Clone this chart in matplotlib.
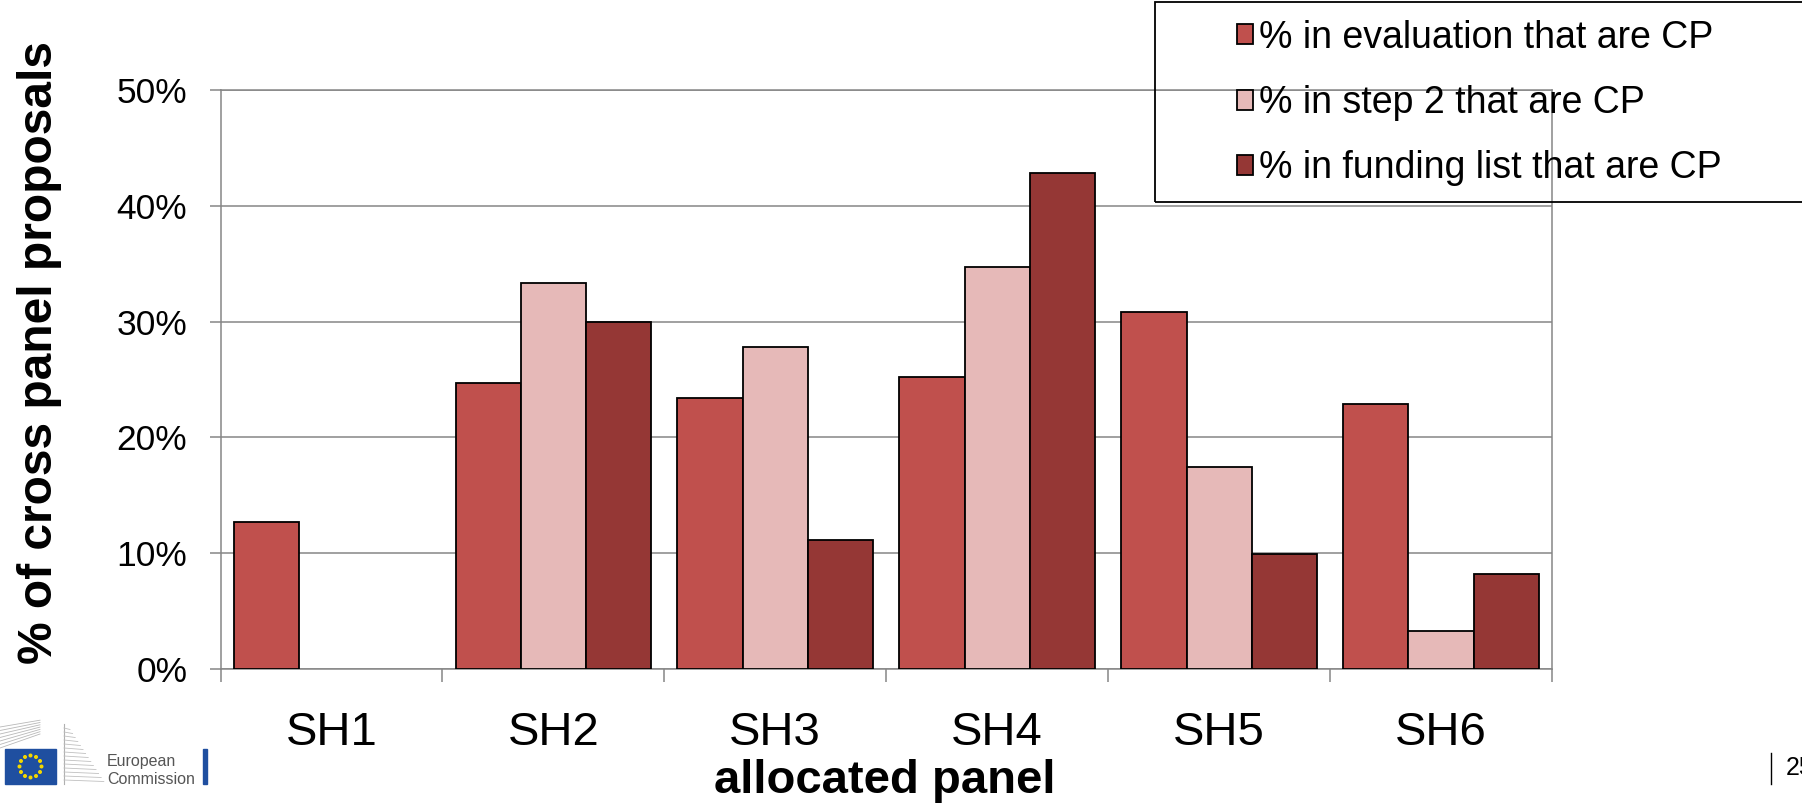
import matplotlib
matplotlib.use("Agg")
import matplotlib.pyplot  as plt
import matplotlib.ticker  as mtick
import numpy as np
from matplotlib.patches import Rectangle, Circle
from matplotlib.lines   import Line2D


PNG_PATH = "out.png"

panels          = ["SH1", "SH2", "SH3", "SH4", "SH5", "SH6"]
evaluation_cp   = [0.127, 0.247, 0.234, 0.252, 0.308, 0.229]
step2_cp        = [0.0,   0.333, 0.278, 0.347, 0.174, 0.033]
funding_cp      = [0.0,   0.300, 0.111, 0.428, 0.099, 0.082]

series_labels   = ["% in evaluation that are CP",
                   "% in step 2 that are CP",
                   "% in funding list that are CP"]
series_colors   = ["#C0504D", "#E6B9B8", "#953735"]
y_ticks         = [0.0, 0.1, 0.2, 0.3, 0.4, 0.5]

GRID_GRAY = "#868686"

W, H = 1802, 805


def draw_logo(fig):
  # Logo simplifie de la Commission europeenne, en coordonnees pixels
  lax = fig.add_axes([0, 0, 215 / W, 95 / H])
  lax.set_xlim(0, 215)
  lax.set_ylim(805, 710)
  lax.axis("off")

  # batiment a gauche (lignes en perspective)
  for k in range(7):
    y = 748 - k * 3.5
    lax.plot([0, 40], [y, y - 14 + k * 1.2], color="#b8b8b8", lw=0.6)

  # batiment a droite
  lax.plot([64, 64], [724, 784], color="#b0b0b0", lw=0.8)
  for k in range(14):
    y = 728 + k * 4
    lax.plot([64, 64 + 6 + k * 2.6], [y, y + 1.5], color="#c0c0c0", lw=0.6)

  # drapeau
  lax.add_patch(Rectangle((5, 749), 51, 35, color="#1f4fa0"))
  for a in np.linspace(0, 2 * np.pi, 12, endpoint=False):
    lax.add_patch(Circle((30.5 + 11 * np.cos(a), 766.5 + 11 * np.sin(a)), 1.3,
                         color="#f5d800"))

  lax.text(107, 761, "European", fontsize=11.5, color="#555555",
           va="center", ha="left")
  lax.text(107, 779, "Commission", fontsize=11.5, color="#555555",
           va="center", ha="left")
  lax.add_patch(Rectangle((203, 749), 4, 35, color="#1f4fa0"))


def main():
  plt.rcParams["font.family"] = ["Liberation Sans", "DejaVu Sans"]

  fig = plt.figure(figsize=(W / 100, H / 100), dpi=100)
  ax  = fig.add_axes([220.5 / W, 136 / H, 1331.5 / W, 579.1 / H])

  x     = np.arange(len(panels))
  width = 0.294

  all_series = [evaluation_cp, step2_cp, funding_cp]
  for i, values in enumerate(all_series):
    bars = ax.bar(x + (i - 1) * width, values, width,
                  color=series_colors[i], edgecolor="black",
                  linewidth=1.3, zorder=3)
    # Excel ne dessine rien pour une valeur nulle
    for b, v in zip(bars, values):
      if v == 0:
        b.set_visible(False)

  ax.set_xlim(-0.5, len(panels) - 0.5)
  ax.set_ylim(0, 0.5)
  ax.set_yticks(y_ticks)
  ax.yaxis.set_major_formatter(mtick.PercentFormatter(1.0, decimals=0))
  ax.grid(axis="y", color=GRID_GRAY, linewidth=1.1, zorder=0)

  for s in ax.spines.values():
    s.set_color(GRID_GRAY)
    s.set_linewidth(1.1)

  ax.set_xticks(x)
  ax.set_xticklabels(panels)
  ax.set_xticks(np.arange(-0.5, len(panels)), minor=True)
  ax.tick_params(axis="x", which="major", length=0, pad=30, labelsize=34)
  ax.tick_params(axis="x", which="minor", length=9, width=1.1,
                 color=GRID_GRAY, direction="out")
  ax.tick_params(axis="y", length=8, width=1.1, color=GRID_GRAY,
                 direction="out", pad=16, labelsize=25.5)

  fig.text(40 / W, 1 - 353 / H, "% of cross panel proposals",
           rotation=90, ha="center", va="center",
           fontsize=34.5, fontweight="bold")
  fig.text(885 / W, 1 - 793 / H, "allocated panel",
           ha="center", va="baseline", fontsize=34, fontweight="bold")

  # cadre de la legende
  fig.patches.append(Rectangle((1155 / W, 1 - 202 / H), 660 / W, 200 / H,
                               transform=fig.transFigure, fill=False,
                               edgecolor="black", linewidth=1.3))
  handles = [Rectangle((0, 0), 1, 1, facecolor=c, edgecolor="black",
                       linewidth=1.3) for c in series_colors]
  fig.legend(handles=handles, labels=series_labels,
             loc="center", bbox_to_anchor=(1479 / W, 1 - 103 / H),
             frameon=False, fontsize=27, handlelength=0.45,
             handleheight=0.45, handletextpad=0.14, labelspacing=0.78)

  # numero de page
  fig.add_artist(Line2D([1771 / W, 1771 / W], [1 - 753 / H, 1 - 784 / H],
                        color="black", linewidth=1.0))
  fig.text(1786 / W, 1 - 767.5 / H, "25", fontsize=18, va="center", ha="left")

  draw_logo(fig)

  plt.savefig(PNG_PATH, dpi=100)
  plt.close()


if __name__ == "__main__":
  main()
